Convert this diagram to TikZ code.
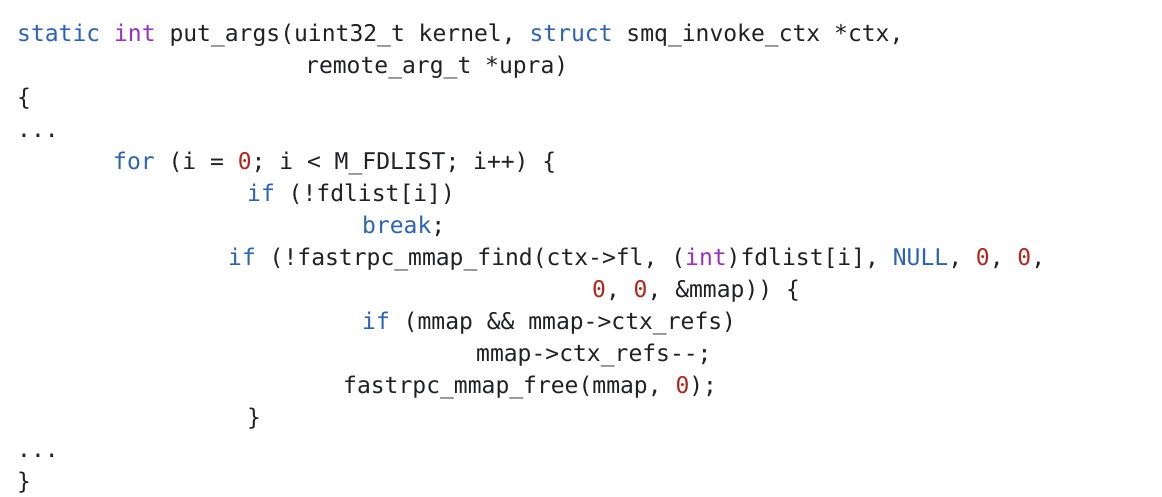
\documentclass[tikz,border=0pt]{standalone}
\usepackage{fontspec}
\setmonofont{DejaVu Sans Mono}
\definecolor{kw}{HTML}{2A63B8}
\definecolor{ty}{HTML}{9B30C8}
\definecolor{nm}{HTML}{B3261E}
\definecolor{tx}{HTML}{202124}
\newcommand{\K}[1]{\textcolor{kw}{#1}}
\newcommand{\T}[1]{\textcolor{ty}{#1}}
\newcommand{\N}[1]{\textcolor{nm}{#1}}
\tikzset{code/.style={anchor=base west,inner sep=0pt,text=tx,font=\ttfamily\fontsize{23}{23}\selectfont}}
\begin{document}
\begin{tikzpicture}[x=1pt,y=1pt]
\useasboundingbox[fill=white] (0,0) rectangle (1162,-496);
\node[code] (l1) at (17,-41) {\K{static} \T{int} put\_args(uint32\_t kernel, \K{struct} smq\_invoke\_ctx *ctx,};
\node[code] (l2) at (305,-73) {remote\_arg\_t *upra)};
\node[code] (l3) at (17,-105) {\{};
\node[code] (l4) at (17,-137) {...};
\node[code] (l5) at (113,-169) {\K{for} (i = \N{0}; i < M\_FDLIST; i++) \{};
\node[code] (l6) at (247,-201) {\K{if} (!fdlist[i])};
\node[code] (l7) at (362,-233) {\K{break};};
\node[code] (l8) at (228,-265) {\K{if} (!fastrpc\_mmap\_find(ctx->fl, (\T{int})fdlist[i], \K{NULL}, \N{0}, \N{0},};
\node[code] (l9) at (592,-297) {\N{0}, \N{0}, \&mmap)) \{};
\node[code] (l10) at (362,-329) {\K{if} (mmap \&\& mmap->ctx\_refs)};
\node[code] (l11) at (476,-361) {mmap->ctx\_refs-{}-;};
\node[code] (l12) at (343,-393) {fastrpc\_mmap\_free(mmap, \N{0});};
\node[code] (l13) at (247,-425) {\}};
\node[code] (l14) at (17,-457) {...};
\node[code] (l15) at (17,-489) {\}};
\end{tikzpicture}
\end{document}
